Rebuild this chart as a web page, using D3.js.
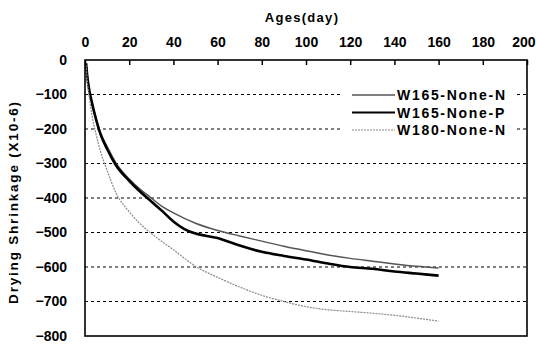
<!DOCTYPE html>
<html>
<head>
<meta charset="utf-8">
<script src="https://cdn.jsdelivr.net/npm/d3@7"></script>
<style>
body { margin: 0; background: #fff; }
svg text { font-family: "Liberation Sans", Arial, sans-serif; font-weight: bold; fill: #000; }
.axis path, .axis line { stroke: #000; }
.grid line { stroke: #000; stroke-width: 1.2; stroke-dasharray: 3,3; }
</style>
</head>
<body>
<svg width="536" height="344"></svg>
<script>
var xTicks = [0, 20, 40, 60, 80, 100, 120, 140, 160, 180, 200];
var yTicks = [0, -100, -200, -300, -400, -500, -600, -700, -800];
var seriesNames = ["W165-None-N", "W165-None-P", "W180-None-N"];

var days1 = [0.5, 1, 2, 3, 5, 7, 10, 14, 20, 25, 30, 35, 40, 50, 60, 70, 80, 90, 100, 110, 120, 130, 140, 150, 160];
var vals1 = [-10, -45, -90, -120, -170, -210, -250, -298, -345, -375, -400, -425, -443, -473, -494, -510, -525, -540, -553, -565, -575, -583, -591, -598, -603];

var days2 = [0.5, 1, 2, 3, 5, 7, 10, 14, 20, 25, 30, 35, 40, 45, 50, 55, 60, 65, 70, 80, 90, 100, 110, 120, 130, 140, 150, 160];
var vals2 = [-10, -45, -90, -120, -172, -215, -258, -305, -350, -382, -410, -438, -468, -490, -503, -510, -516, -527, -538, -556, -568, -578, -590, -600, -605, -613, -619, -625];

var days3 = [0.5, 1, 2, 3, 5, 7, 10, 14, 20, 25, 30, 35, 40, 50, 60, 70, 80, 90, 100, 110, 120, 130, 140, 150, 160];
var vals3 = [-15, -60, -110, -155, -215, -265, -320, -385, -440, -475, -503, -527, -550, -598, -630, -658, -682, -700, -715, -724, -729, -734, -740, -748, -757];

var svg = d3.select("svg");
var plotLeft = 85, plotRight = 527, plotTop = 60, plotBottom = 336;

var x = d3.scaleLinear().domain([0, 200]).range([plotLeft, plotRight]);
var y = d3.scaleLinear().domain([-800, 0]).range([plotBottom, plotTop]);

// grid
svg.append("g").attr("class", "grid")
    .selectAll("line")
    .data(yTicks.filter(v => v > -800 && v < 0))
    .enter().append("line")
    .attr("x1", plotLeft).attr("x2", plotRight)
    .attr("y1", d => y(d)).attr("y2", d => y(d));

// series
var series = [
    { name: seriesNames[0], days: days1, vals: vals1, color: "#555", width: 1.5, dash: null },
    { name: seriesNames[1], days: days2, vals: vals2, color: "#000", width: 2.6, dash: null },
    { name: seriesNames[2], days: days3, vals: vals3, color: "#8a8a8a", width: 1.2, dash: "2,1" }
];

var line = d3.line().x(d => x(d[0])).y(d => y(d[1])).curve(d3.curveMonotoneX);

svg.append("g").selectAll("path")
    .data(series)
    .enter().append("path")
    .attr("fill", "none")
    .attr("stroke", d => d.color)
    .attr("stroke-width", d => d.width)
    .attr("stroke-dasharray", d => d.dash)
    .attr("d", d => line(d.days.map((t, i) => [t, d.vals[i]])));

// legend
var lg = svg.append("g").attr("transform", "translate(343,80)");
lg.append("rect").attr("width", 172).attr("height", 64).attr("fill", "#fff");
var items = lg.selectAll("g.item")
    .data(series)
    .enter().append("g")
    .attr("class", "item")
    .attr("transform", (d, i) => "translate(0," + (15 + i * 17.5) + ")");
items.append("line")
    .attr("x1", 9).attr("x2", 52)
    .attr("stroke", d => d.color)
    .attr("stroke-width", d => Math.min(d.width, 2))
    .attr("stroke-dasharray", d => d.dash);
items.append("text")
    .attr("x", 54).attr("dy", "0.36em")
    .attr("font-size", 14)
    .attr("letter-spacing", 1.7)
    .text(d => d.name);

// frame
svg.append("rect")
    .attr("x", plotLeft).attr("y", plotTop)
    .attr("width", plotRight - plotLeft).attr("height", plotBottom - plotTop)
    .attr("fill", "none").attr("stroke", "#000").attr("stroke-width", 1.6);

// top axis
var xAxis = svg.append("g").attr("class", "axis")
    .attr("transform", "translate(0," + plotTop + ")")
    .call(d3.axisTop(x).tickValues(xTicks).tickSize(-5).tickPadding(13));
xAxis.select(".domain").remove();
xAxis.selectAll("line").attr("stroke-width", 1.5);
xAxis.selectAll("text").attr("font-size", 14).attr("font-family", null);
// keep the last label inside the page
xAxis.selectAll("text").filter(d => d == 200)
    .attr("text-anchor", "end").attr("x", 8);

// left axis
var yAxis = svg.append("g").attr("class", "axis")
    .attr("transform", "translate(" + plotLeft + ",0)")
    .call(d3.axisLeft(y).tickValues(yTicks).tickSize(0).tickPadding(18));
yAxis.select(".domain").remove();
yAxis.selectAll("text").attr("font-size", 14).attr("font-family", null);

// titles
svg.append("text")
    .attr("x", 302).attr("y", 22)
    .attr("text-anchor", "middle")
    .attr("font-size", 13)
    .attr("letter-spacing", 1.3)
    .text("Ages(day)");

svg.append("text")
    .attr("transform", "translate(18,202) rotate(-90)")
    .attr("text-anchor", "middle")
    .attr("font-size", 13.5)
    .attr("letter-spacing", 1.8)
    .text("Drying Shrinkage (X10-6)");
</script>
</body>
</html>
